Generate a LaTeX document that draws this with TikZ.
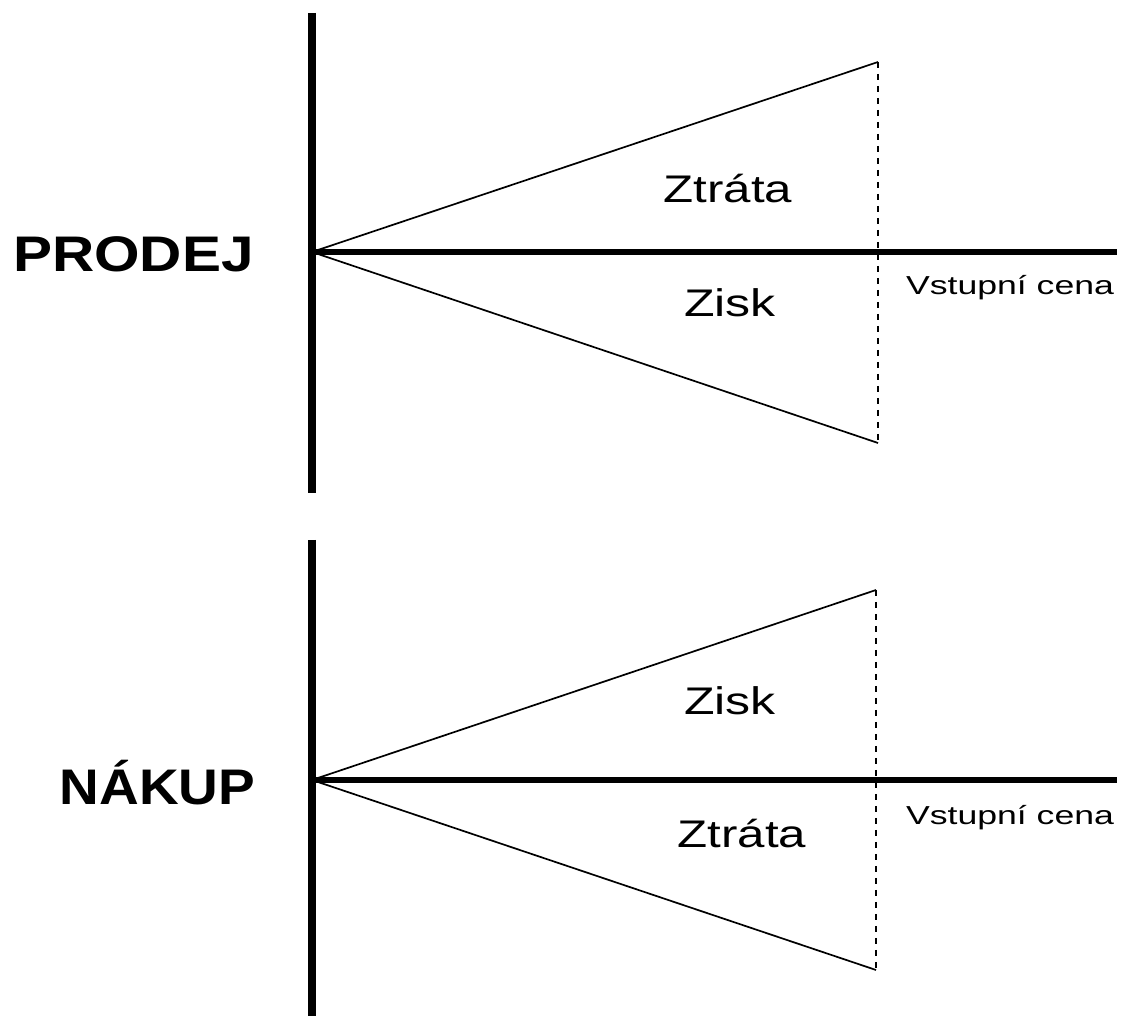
\documentclass[tikz,border=0pt]{standalone}
\usepackage{fontspec}
\setmainfont{Liberation Sans}
\begin{document}
\begin{tikzpicture}[x=1pt,y=1pt,
  axis/.style={line width=8pt},
  level/.style={line width=6pt},
  edge/.style={line width=1.7pt},
  limit/.style={line width=1.7pt,dash pattern=on 6pt off 6pt},
  zone/.style={anchor=base,inner sep=0pt,font=\fontsize{38.5}{46}\selectfont},
  pricetag/.style={anchor=base,inner sep=0pt,font=\fontsize{26}{31}\selectfont},
  side/.style={anchor=base,inner sep=0pt,font=\bfseries\fontsize{50}{60}\selectfont}]
\useasboundingbox (0,0) rectangle (1123,1016);

% upper panel: selling
\coordinate (sTop) at (312,1003);
\coordinate (sBot) at (312,523);
\coordinate (sO) at (312,764);
\coordinate (sEnd) at (1117,764);
\coordinate (sHi) at (878,954);
\coordinate (sLo) at (878,573);
\draw[axis] (sTop) -- (sBot);
\draw[edge] (sO) -- (sHi);
\draw[edge] (sO) -- (sLo);
\draw[limit] (sHi) -- (sLo);
\draw[level] (sO) -- (sEnd);
\node[side] (prodej) at (133.5,744) {\scalebox{1.17}[1]{PRODEJ}};
\node[zone] (sZtrata) at (728,813) {\scalebox{1.28}[1]{Ztráta}};
\node[zone] (sZisk) at (730,699) {\scalebox{1.3}[1]{Zisk}};
\node[pricetag] (sCena) at (1010,721) {\scalebox{1.37}[1]{Vstupní cena}};

% lower panel: buying
\coordinate (bTop) at (312,476);
\coordinate (bBot) at (312,0);
\coordinate (bO) at (312,236);
\coordinate (bEnd) at (1117,236);
\coordinate (bHi) at (876,426);
\coordinate (bLo) at (876,46);
\draw[axis] (bTop) -- (bBot);
\draw[edge] (bO) -- (bHi);
\draw[edge] (bO) -- (bLo);
\draw[limit] (bHi) -- (bLo);
\draw[level] (bO) -- (bEnd);
\node[side] (nakup) at (157.5,211) {\scalebox{1.10}[1]{NÁKUP}};
\node[zone] (bZisk) at (730,301) {\scalebox{1.3}[1]{Zisk}};
\node[zone] (bZtrata) at (742,168) {\scalebox{1.28}[1]{Ztráta}};
\node[pricetag] (bCena) at (1010,191) {\scalebox{1.37}[1]{Vstupní cena}};
\end{tikzpicture}
\end{document}
